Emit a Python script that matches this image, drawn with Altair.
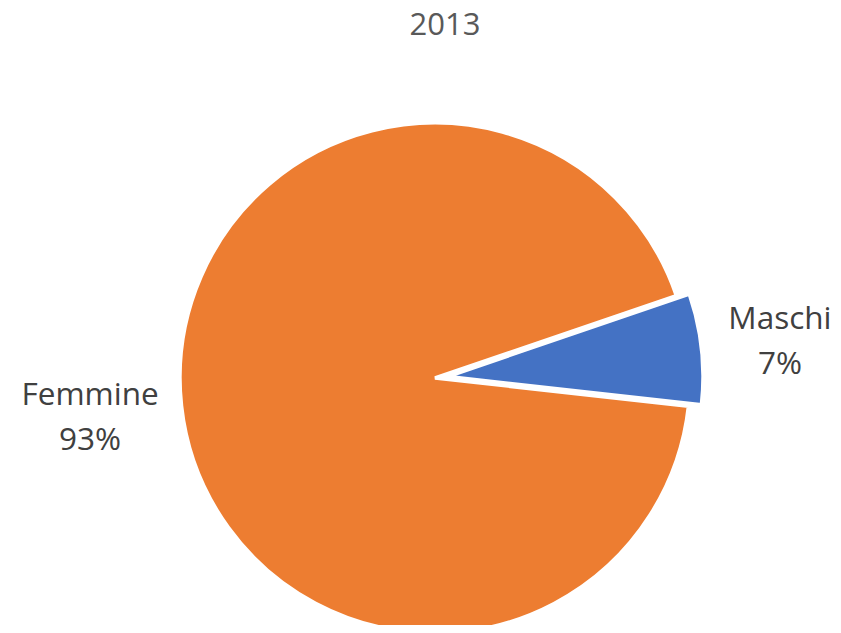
import altair as alt
import pandas as pd
import math

categories = ["Maschi", "Femmine"]
values = [7, 93]
labels = ["7%", "93%"]
colors = ["#4472C4", "#ED7D31"]

df = pd.DataFrame({"cat": categories, "val": values, "pct": labels, "order": [0, 1]})

start = math.radians(71.15)
theta_scale = alt.Scale(domain=[0, 100], range=[start, start + 2 * math.pi])
color_scale = alt.Scale(domain=categories, range=colors)

base = alt.Chart(df).transform_stack(
    stack="val", groupby=[], as_=["s0", "s1"], sort=[alt.SortField("order")]
).transform_calculate(mid="(datum.s0 + datum.s1) / 2")

orange = base.transform_filter("datum.cat == 'Femmine'").mark_arc(
    radius=255, stroke="white", strokeWidth=3.5
).encode(
    theta=alt.Theta("s0:Q", scale=theta_scale),
    theta2="s1:Q",
    color=alt.Color("cat:N", scale=color_scale, legend=None),
)

blue = base.transform_filter("datum.cat == 'Maschi'").mark_arc(
    radius=255, stroke="white", strokeWidth=3.5, xOffset=13, yOffset=-1.5
).encode(
    theta=alt.Theta("s0:Q", scale=theta_scale),
    theta2="s1:Q",
    color=alt.Color("cat:N", scale=color_scale, legend=None),
)

text = base.transform_calculate(
    lab="[datum.cat, datum.pct]"
).mark_text(
    radius=347, font="Open Sans", fontSize=31.5, color="#404040",
    lineHeight=45, baseline="middle", align="center", dy=-20
).encode(
    theta=alt.Theta("mid:Q", scale=theta_scale, stack=None),
    text="lab:N",
)

chart = alt.layer(orange, blue, text).properties(
    width=654,
    height=340,
    padding={"left": 100, "top": 200, "right": 71, "bottom": 77},
    autosize=alt.AutoSizeParams(type="none"),
    title=alt.TitleParams(
        "2013", font="Open Sans", fontSize=31, fontWeight="normal",
        color="#595959", anchor="middle", frame="group", dx=10, offset=50,
        baseline="alphabetic"
    ),
).configure_view(stroke=None)

chart.save("out.html", embed_options={"renderer": "svg", "actions": False})
